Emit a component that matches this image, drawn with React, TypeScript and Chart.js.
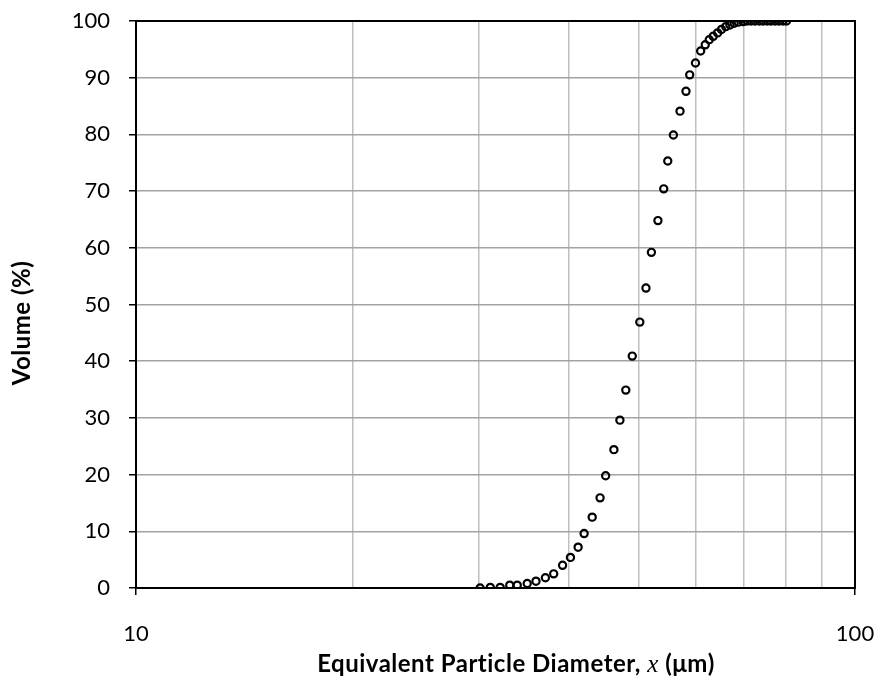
import React, { useEffect, useRef } from 'react';
import { Chart, registerables } from 'chart.js';

Chart.register(...registerables);

// Equivalent particle diameter (µm)
const diameters = [
  30.1, 31.1, 32.1, 33.1, 33.9, 35.0, 36.0, 37.1, 38.1, 39.2,
  40.2, 41.2, 42.0, 43.1, 44.2, 45.0, 46.2, 47.1, 48.0, 49.0,
  50.2, 51.2, 52.1, 53.2, 54.2, 54.9, 55.9, 57.1, 58.2, 58.9,
  60.0, 61.0, 61.9, 62.7, 63.5, 64.4, 65.2, 66.1, 67.0, 67.9,
  68.8, 69.9, 70.8, 71.7, 72.6, 73.6, 74.5, 75.5, 76.4, 77.4,
  78.4, 79.4, 80.3,
];
// Cumulative volume (%)
const volumes = [
  0.0, 0.1, 0.1, 0.5, 0.5, 0.8, 1.2, 1.8, 2.5, 4.0,
  5.4, 7.2, 9.6, 12.5, 15.9, 19.8, 24.4, 29.6, 34.9, 40.9,
  46.9, 52.9, 59.2, 64.8, 70.4, 75.3, 79.9, 84.1, 87.6, 90.5,
  92.6, 94.7, 95.8, 96.7, 97.3, 97.9, 98.5, 99.0, 99.3, 99.6,
  99.8, 99.9, 100, 100, 100, 100, 100, 100, 100, 100,
  100, 100, 100,
];
const xGridValues = [10, 20, 30, 40, 50, 60, 70, 80, 90, 100];
const xLabeledTicks = [10, 100];
const yMin = 0;
const yMax = 100;
const yStep = 10;
const xTitleParts = ['Equivalent Particle Diameter, ', 'x', ' (μm)'];
const yTitle = 'Volume (%)';

const FONT = 'Lato, "Open Sans", sans-serif';

export default function App() {
  const ref = useRef<HTMLCanvasElement>(null);

  useEffect(() => {
    document.body.style.margin = '0';
    const canvas = ref.current;
    if (!canvas) return;

    const framePlugin = {
      id: 'frame',
      beforeDatasetsDraw(chart: any) {
        const { ctx, chartArea: a } = chart;
        ctx.save();
        ctx.strokeStyle = '#000';
        ctx.lineWidth = 2;
        ctx.strokeRect(a.left, a.top, a.right - a.left, a.bottom - a.top);
        ctx.restore();
      },
    };

    const titlesPlugin = {
      id: 'titles',
      afterDraw(chart: any) {
        const { ctx, chartArea: a } = chart;
        ctx.save();
        ctx.fillStyle = '#000';
        ctx.textBaseline = 'alphabetic';
        try {
          (ctx as any).letterSpacing = '0.5px';
        } catch (e) {
          /* ignore */
        }
        const fonts = [
          `bold 24px ${FONT}`,
          'italic 25px "Liberation Serif", serif',
          `bold 24px ${FONT}`,
        ];
        let total = 0;
        const widths = xTitleParts.map((t, i) => {
          ctx.font = fonts[i];
          const w = ctx.measureText(t).width;
          total += w;
          return w;
        });
        let x = a.left + 380 - total / 2;
        const y = a.bottom + 84;
        ctx.textAlign = 'left';
        xTitleParts.forEach((t, i) => {
          ctx.font = fonts[i];
          ctx.fillText(t, x, y);
          x += widths[i];
        });

        ctx.translate(a.left - 114, a.top + 302);
        ctx.rotate(-Math.PI / 2);
        ctx.textAlign = 'center';
        ctx.textBaseline = 'middle';
        ctx.font = `bold 24px ${FONT}`;
        ctx.fillText(yTitle, 0, 0);
        ctx.restore();
      },
    };

    const isEdgeX = (v: number) => xLabeledTicks.some((t) => Math.abs(v - t) < 1e-6);

    const chart = new Chart(canvas, {
      type: 'scatter',
      data: {
        datasets: [
          {
            label: 'Volume',
            data: diameters.map((d, i) => ({ x: d, y: volumes[i] })),
            showLine: false,
            pointStyle: 'circle',
            pointRadius: 3.6,
            pointHoverRadius: 3.6,
            pointBorderWidth: 2.2,
            borderColor: '#000',
            backgroundColor: 'rgba(0,0,0,0)',
          },
        ],
      },
      options: {
        animation: false,
        responsive: true,
        maintainAspectRatio: false,
        layout: { padding: { top: 21, right: 26, left: 0, bottom: 0 } },
        plugins: {
          legend: { display: false },
          tooltip: { enabled: false },
          title: { display: false },
        },
        scales: {
          x: {
            type: 'logarithmic',
            min: 10,
            max: 100,
            border: { display: false },
            afterBuildTicks: (s: any) => {
              s.ticks = xGridValues.map((v) => ({ value: v }));
            },
            grid: {
              color: (c: any) => (c.tick && isEdgeX(c.tick.value) ? 'rgba(0,0,0,0)' : '#c0c0c0'),
              lineWidth: 1.5,
              tickColor: (c: any) => (c.tick && isEdgeX(c.tick.value) ? '#000' : 'rgba(0,0,0,0)'),
              tickLength: 7,
              tickWidth: 1.5,
            },
            ticks: {
              autoSkip: false,
              maxRotation: 0,
              padding: 26,
              color: '#000',
              font: { family: FONT, size: 22 },
              callback: (v: any) => (isEdgeX(Number(v)) ? String(Math.round(Number(v))) : ''),
            },
            afterFit: (s: any) => {
              s.height = 96;
              s.paddingLeft = 0;
              s.paddingRight = 0;
            },
          },
          y: {
            min: yMin,
            max: yMax,
            border: { display: false },
            grid: {
              color: (c: any) =>
                c.tick && (c.tick.value === yMin || c.tick.value === yMax) ? 'rgba(0,0,0,0)' : '#a3a3a3',
              lineWidth: 1.5,
              tickColor: '#000',
              tickLength: 7,
              tickWidth: 1.5,
            },
            ticks: {
              stepSize: yStep,
              padding: 19,
              color: '#000',
              font: { family: FONT, size: 22 },
            },
            afterFit: (s: any) => {
              s.width = 136;
              s.paddingTop = 0;
              s.paddingBottom = 0;
            },
          },
        },
      },
      plugins: [framePlugin, titlesPlugin],
    });

    return () => chart.destroy();
  }, []);

  return (
    <div style={{ position: 'relative', width: 881, height: 684 }}>
      <canvas ref={ref} />
    </div>
  );
}
